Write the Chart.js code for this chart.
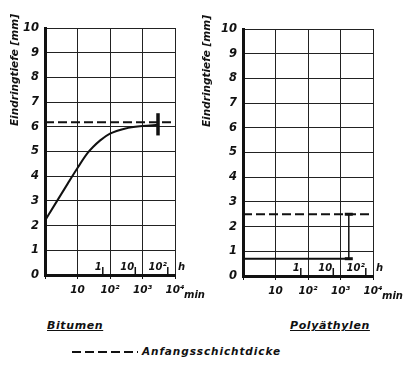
<!DOCTYPE html>
<html>
<head>
<meta charset="utf-8">
<script src="https://cdn.jsdelivr.net/npm/chart.js@4/dist/chart.umd.min.js"></script>
<style>
  body { margin: 0; background: #fff; width: 405px; height: 365px; position: relative; overflow: hidden;
         font-family: "DejaVu Sans", sans-serif; font-style: italic; font-weight: bold; color: #111; }
  .panel { position: absolute; top: 0; width: 207px; height: 310px; }
  .name { position: absolute; top: 319px; font-size: 11px; text-decoration: underline; letter-spacing: 0.6px; }
  #legend { position: absolute; top: 345px; left: 72px; font-size: 10.5px; letter-spacing: 0.9px; }
  #legend span { display: inline-block; width: 66px; height: 2px; vertical-align: middle; margin-right: 4px;
                 background: repeating-linear-gradient(to right, #111 0 9px, transparent 9px 13px); }
</style>
</head>
<body>
<div class="panel" style="left:0px"><canvas id="bitumen" width="207" height="310"></canvas></div>
<div class="panel" style="left:198px; top:1px"><canvas id="poly" width="207" height="310"></canvas></div>
<div class="name" style="left:47px">Bitumen</div>
<div class="name" style="left:290px">Polyäthylen</div>
<div id="legend"><span></span>Anfangsschichtdicke</div>
<script>
// time axis in minutes (log), depth in mm
const minTicks = [1, 10, 100, 1000, 10000];
const minLabels = ['', '10', '10²', '10³', '10⁴'];
const hourTicks = [1, 10, 100];
const hourLabels = ['1', '10', '10²'];
const depthTicks = [0, 1, 2, 3, 4, 5, 6, 7, 8, 9, 10];

// Bitumen
const bitumenMin = [1, 2, 5, 10, 20, 30, 50, 100, 300, 1000, 3000];
const bitumenDepth = [2.2, 2.85, 3.7, 4.33, 4.92, 5.18, 5.45, 5.72, 5.93, 6.03, 6.08];
const bitumenStart = 6.18;
const bitumenRangeMin = 3000;
const bitumenRange = [5.65, 6.55];

// Polyäthylen
const polyMin = [1, 1800];
const polyDepth = [0.7, 0.7];
const polyStart = 2.5;
const polyRangeMin = 1800;
const polyRange = [0.7, 2.5];

const FONT = '"DejaVu Sans", sans-serif';

const extras = {
  id: 'extras',
  afterDraw(chart, args, opts) {
    const ctx = chart.ctx;
    const xs = chart.scales.x;
    const area = chart.chartArea;
    ctx.save();
    ctx.fillStyle = '#111';
    ctx.strokeStyle = '#111';
    ctx.lineWidth = 1.5;
    ctx.font = 'italic bold 10px ' + FONT;
    ctx.textBaseline = 'alphabetic';
    // hour scale inside the plot, above the time axis
    hourTicks.forEach((h, i) => {
      const x = xs.getPixelForValue(h * 60);
      ctx.beginPath();
      ctx.moveTo(x, area.bottom);
      ctx.lineTo(x, area.bottom - 8);
      ctx.stroke();
      ctx.textAlign = 'right';
      ctx.fillText(hourLabels[i], x - 1, area.bottom - 5);
    });
    ctx.textAlign = 'left';
    ctx.fillText('h', area.right + 3, area.bottom - 5);
    ctx.fillText('min', area.right + 9, area.bottom + 23);
    // axis title
    ctx.font = 'italic bold 10.5px ' + FONT;
    ctx.translate(opts.titleX, 70);
    ctx.rotate(-Math.PI / 2);
    ctx.textAlign = 'center';
    ctx.textBaseline = 'middle';
    ctx.fillText('Eindringtiefe [mm]', 0, 0);
    ctx.restore();
  }
};

function makeChart(id, datasets, titleX) {
  return new Chart(document.getElementById(id), {
    type: 'line',
    data: { datasets: datasets },
    options: {
      responsive: false,
      animation: false,
      layout: { padding: { top: 28, right: 32, bottom: 0, left: 0 } },
      plugins: { legend: { display: false }, tooltip: { enabled: false }, extras: { titleX: titleX } },
      elements: { point: { radius: 0 }, line: { borderColor: '#111' } },
      scales: {
        x: {
          type: 'logarithmic',
          min: 1,
          max: 10000,
          afterBuildTicks: (scale) => { scale.ticks = minTicks.map(v => ({ value: v })); },
          afterFit: (scale) => { scale.height = 35; },
          grid: { color: '#222', lineWidth: 1, tickLength: 4, tickColor: '#111' },
          border: { color: '#111', width: 3 },
          ticks: {
            autoSkip: false,
            maxRotation: 0,
            padding: 5,
            color: '#111',
            font: { family: FONT, size: 10.5, style: 'italic', weight: 'bold' },
            callback: (v) => minLabels[minTicks.indexOf(v)]
          }
        },
        y: {
          min: 0,
          max: 10,
          afterBuildTicks: (scale) => { scale.ticks = depthTicks.map(v => ({ value: v })); },
          afterFit: (scale) => { scale.width = 45; },
          grid: { color: '#222', lineWidth: 1, drawTicks: false },
          border: { color: '#111', width: 3 },
          ticks: {
            padding: 6,
            color: '#111',
            font: { family: FONT, size: 11.5, style: 'italic', weight: 'bold' }
          }
        }
      }
    },
    plugins: [extras]
  });
}

makeChart('bitumen', [
  { data: bitumenMin.map((m, i) => ({ x: m, y: bitumenDepth[i] })), borderWidth: 2, cubicInterpolationMode: 'monotone' },
  { data: [{ x: 1, y: bitumenStart }, { x: 10000, y: bitumenStart }], borderWidth: 2, borderDash: [9, 4] },
  { data: bitumenRange.map(v => ({ x: bitumenRangeMin, y: v })), borderWidth: 3.5 }
], 15);

makeChart('poly', [
  { data: polyMin.map((m, i) => ({ x: m, y: polyDepth[i] })), borderWidth: 2 },
  { data: [{ x: 1, y: polyStart }, { x: 10000, y: polyStart }], borderWidth: 2, borderDash: [9, 4] },
  { data: polyRange.map(v => ({ x: polyRangeMin, y: v })), borderWidth: 1.5,
    pointStyle: 'line', pointRadius: 4, pointBorderWidth: 3, pointBorderColor: '#111' }
], 9);
</script>
</body>
</html>
